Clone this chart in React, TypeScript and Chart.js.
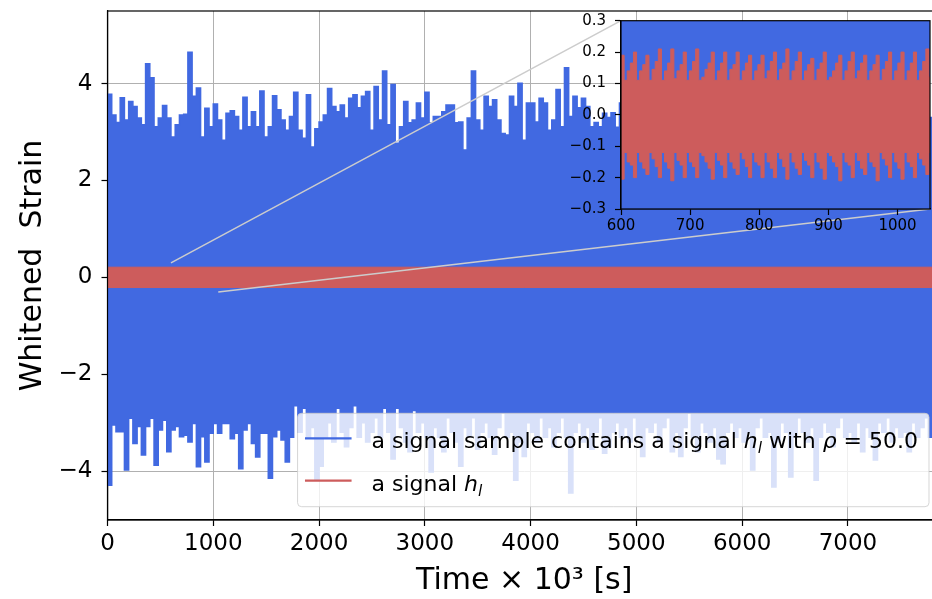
import React, { useEffect, useRef } from 'react';
import { Chart, registerables } from 'chart.js';

Chart.register(...registerables);

// ---------------- data ----------------
// noise envelope of the whitened strain, one value per time bin
const noiseStart = 0;
const noiseStep = 40;
const noiseUpper = [
  3.45, 3.78, 3.35, 3.2, 3.71, 3.25, 3.63, 3.53, 3.29, 3.15,
  4.41, 4.12, 3.11, 3.29, 3.55, 3.29, 2.9, 3.15, 3.35, 3.37,
  4.65, 3.74, 3.91, 2.9, 3.49, 3.11, 3.58, 3.25, 2.83, 3.39,
  3.44, 3.32, 3.04, 3.72, 3.11, 3.42, 3.11, 3.85, 2.9, 3.11,
  3.75, 3.46, 3.25, 3.04, 3.32, 3.82, 3.04, 2.87, 3.77, 2.69,
  3.07, 3.21, 3.35, 3.9, 3.53, 3.42, 3.56, 3.29, 3.7, 3.77,
  3.5, 3.74, 3.84, 3.04, 3.94, 3.25, 4.26, 3.15, 3.98, 2.77,
  3.11, 3.63, 3.19, 3.25, 3.6, 3.29, 3.82, 3.19, 3.32, 3.32,
  3.42, 3.56, 3.56, 3.19, 3.21, 2.63, 3.29, 4.26, 3.25, 3.04,
  3.74, 3.53, 3.67, 3.25, 2.97, 2.94, 3.74, 3.53, 4.01, 2.83,
  3.6, 3.6, 3.21, 3.7, 3.6, 3.04, 3.25, 3.88, 3.11, 4.33,
  3.32, 3.74, 3.5, 3.7, 3.53, 3.11, 3.2, 3.11, 3.39, 3.3,
  3.4, 3.1, 3.6, 3.3, 2.9, 3.5, 3.8, 3.2, 3.0, 3.4,
  3.3, 3.9, 3.1, 3.5, 3.2, 2.8, 3.6, 3.4, 3.1, 3.7,
  3.2, 3.0, 3.5, 4.1, 3.3, 3.1, 3.4, 2.9, 3.6, 3.2,
  3.5, 3.3, 3.0, 3.8, 3.2, 3.4, 3.1, 3.6, 2.9, 3.3,
  3.7, 3.2, 3.4, 3.0, 3.5, 3.9, 3.1, 3.3, 3.6, 3.2,
  3.0, 3.4, 3.8, 3.2, 3.5, 3.1, 3.3, 3.7, 2.9, 3.4,
  3.2, 3.6, 3.3, 3.0, 3.5, 4.0, 3.2, 3.4, 3.1, 3.6,
  3.3, 3.0, 3.5, 3.2, 3.7, 3.3, 3.1, 3.4,
];
const noiseLower = [
  -3.43, -4.29, -3.05, -3.19, -3.19, -3.98, -2.91, -3.43, -3.08, -3.67,
  -3.08, -2.91, -3.88, -3.15, -2.95, -3.6, -3.15, -3.08, -3.29, -3.26,
  -3.4, -3.02, -3.91, -3.29, -3.81, -3.22, -3.02, -3.22, -3.02, -3.02,
  -3.33, -3.22, -3.95, -3.15, -3.02, -3.43, -3.71, -3.22, -3.22, -4.15,
  -3.29, -3.15, -3.36, -3.81, -3.3,
  -2.65, -3.2, -2.7, -3.3, -3.1, -4.19, -3.9, -3.3, -3.0, -3.4,
  -2.7, -3.2, -3.5, -3.1, -2.65, -3.3, -3.0, -3.4, -3.2, -2.9,
  -3.3, -2.7, -3.2, -3.75, -2.7, -3.1, -3.4, -3.6, -2.75, -3.2,
  -3.0, -3.3, -4.02, -3.1, -3.3, -3.6, -2.9, -3.2, -3.4, -3.9,
  -3.1, -3.3, -2.9, -3.55, -3.2, -3.0, -3.3, -3.65, -3.1, -2.8,
  -3.3, -3.2, -4.19, -3.4, -3.7, -3.0, -3.2, -3.4, -2.9, -3.3,
  -3.1, -3.5, -3.2, -2.9, -3.3, -4.45, -3.2, -3.0, -3.4, -3.1,
  -3.55, -3.2, -2.9, -3.63, -3.5, -3.2, -3.0, -3.3, -3.1, -3.4,
  -2.9, -3.3, -3.7, -3.1, -3.2, -3.0, -3.4, -3.1, -2.9, -3.6,
  -3.2, -3.7, -3.1, -2.8, -3.3, -3.6, -3.0, -3.2, -3.4, -3.1,
  -3.75, -3.85, -3.2, -3.0, -3.3, -3.1, -3.4, -3.2, -3.98, -3.1,
  -2.9, -3.3, -3.2, -4.33, -3.4, -3.0, -3.2, -4.12, -3.3, -2.9,
  -3.2, -3.4, -3.1, -4.19, -3.3, -3.0, -3.2, -3.5, -3.1, -2.9,
  -3.3, -3.2, -3.4, -3.0, -3.6, -3.1, -3.3, -3.77, -3.0, -3.2,
  -2.9, -3.4, -3.1, -3.3, -3.2, -3.6, -3.0, -3.3, -3.1, -2.9,
  -3.3, -3.2, -3.4,
];

// signal envelope over the whole record (main panel)
const signalBandTimes = [0, 7880];
const signalBandUpper = [0.21, 0.21];
const signalBandLower = [-0.21, -0.21];

// signal envelope in the zoomed window (inset)
const insetStart = 600;
const insetStep = 4.5;
const insetSignalUpper = [
  0.17, 0.19, 0.11, 0.14, 0.165, 0.2, 0.11, 0.14, 0.16, 0.19,
  0.11, 0.145, 0.17, 0.21, 0.11, 0.14, 0.165, 0.21, 0.115, 0.14,
  0.16, 0.2, 0.11, 0.14, 0.17, 0.21, 0.11, 0.12, 0.145, 0.165,
  0.2, 0.11, 0.14, 0.165, 0.2, 0.11, 0.145, 0.16, 0.2, 0.11,
  0.14, 0.165, 0.19, 0.11, 0.14, 0.16, 0.19, 0.115, 0.14, 0.17,
  0.2, 0.11, 0.145, 0.165, 0.21, 0.11, 0.14, 0.17, 0.2, 0.11,
  0.14, 0.16, 0.18, 0.11, 0.145, 0.165, 0.2, 0.11, 0.12, 0.14,
  0.165, 0.19, 0.11, 0.14, 0.17, 0.2, 0.115, 0.14, 0.165, 0.19,
  0.11, 0.14, 0.16, 0.19, 0.11, 0.145, 0.17, 0.2, 0.11, 0.14,
  0.165, 0.2, 0.11, 0.14, 0.165, 0.2, 0.11, 0.14, 0.17, 0.21,
  0.12,
];
const insetSignalLower = [
  -0.18, -0.205, -0.12, -0.15, -0.16, -0.2, -0.12, -0.15, -0.17, -0.19,
  -0.12, -0.14, -0.165, -0.2, -0.12, -0.15, -0.17, -0.21, -0.12, -0.145,
  -0.16, -0.2, -0.12, -0.15, -0.165, -0.2, -0.12, -0.13, -0.15, -0.17,
  -0.205, -0.12, -0.145, -0.16, -0.2, -0.12, -0.15, -0.17, -0.19, -0.12,
  -0.14, -0.165, -0.2, -0.12, -0.15, -0.16, -0.2, -0.12, -0.15, -0.17,
  -0.2, -0.12, -0.14, -0.165, -0.205, -0.12, -0.15, -0.17, -0.19, -0.12,
  -0.145, -0.16, -0.2, -0.12, -0.15, -0.17, -0.205, -0.12, -0.13, -0.15,
  -0.165, -0.21, -0.12, -0.15, -0.16, -0.2, -0.12, -0.145, -0.17, -0.19,
  -0.12, -0.15, -0.165, -0.21, -0.12, -0.14, -0.16, -0.2, -0.12, -0.15,
  -0.17, -0.205, -0.12, -0.15, -0.165, -0.2, -0.12, -0.14, -0.16, -0.19,
  -0.12,
];

const xTicks = [0, 1000, 2000, 3000, 4000, 5000, 6000, 7000];
const yTicks = [-4, -2, 0, 2, 4];
const insetXTicks = [600, 700, 800, 900, 1000];
const insetYTicks = [-0.3, -0.2, -0.1, 0, 0.1, 0.2, 0.3];
const xRange = [0, 7880];
const yRange = [-5.01, 5.5];
const insetXRange = [600, 1047];
const insetYRange = [-0.3, 0.3];

const xTitle = 'Time \u00d7 10\u00b3 [s]';
const yTitle = 'Whitened  Strain';
type Part = { text: string; italic?: boolean; sub?: boolean };
const legendNoise: Part[] = [
  { text: 'a signal sample contains a signal ' },
  { text: 'h', italic: true },
  { text: 'l', italic: true, sub: true },
  { text: ' with ' },
  { text: '\u03c1', italic: true },
  { text: ' = ' },
  { text: '50.0' },
];
const legendSignal: Part[] = [
  { text: 'a signal ' },
  { text: 'h', italic: true },
  { text: 'l', italic: true, sub: true },
];

// ---------------- styles ----------------
const BLUE = '#4169e1';
const RED = '#cd5c5c';
const FONT = "'DejaVu Sans', sans-serif";

const toPoints = (start: number, step: number, values: number[]) =>
  values.map((y, i) => ({ x: start + i * step, y }));
const zip = (xs: number[], ys: number[]) => xs.map((x, i) => ({ x, y: ys[i] }));
const fmt = (v: number, digits: number) =>
  (v < 0 ? '\u2212' : '') + Math.abs(v).toFixed(digits);

const framePlugin = {
  id: 'frame',
  afterDatasetsDraw(chart: any) {
    const { ctx, chartArea: a } = chart;
    ctx.save();
    ctx.strokeStyle = '#000';
    ctx.lineWidth = 1.2;
    ctx.strokeRect(a.left, a.top, a.right - a.left, a.bottom - a.top);
    ctx.restore();
  },
};

// red datasets first so they are painted last (on top)
const bandDatasets = (upper: any[], lower: any[], color: string, width: number, stepped: any) => [
  { data: upper, borderColor: color, backgroundColor: color, borderWidth: width, pointRadius: 0, stepped, fill: '+1' },
  { data: lower, borderColor: color, backgroundColor: color, borderWidth: width, pointRadius: 0, stepped, fill: false },
];

export default function App() {
  const mainRef = useRef<HTMLCanvasElement>(null);
  const insetRef = useRef<HTMLCanvasElement>(null);

  useEffect(() => {
    const mainCanvas = mainRef.current!;
    const insetCanvas = insetRef.current!;

    const noiseU = toPoints(noiseStart, noiseStep, noiseUpper);
    const noiseL = toPoints(noiseStart, noiseStep, noiseLower);

    const inset = new Chart(insetCanvas, {
      type: 'line',
      data: {
        datasets: [
          ...bandDatasets(toPoints(insetStart, insetStep, insetSignalUpper), toPoints(insetStart, insetStep, insetSignalLower), RED, 1, 'after'),
          ...bandDatasets(noiseU, noiseL, BLUE, 1.5, 'after'),
        ],
      } as any,
      options: {
        responsive: false,
        maintainAspectRatio: false,
        animation: false,
        events: [],
        layout: { padding: { top: 12.7, right: 2, left: 0, bottom: 0 } },
        plugins: { legend: { display: false }, tooltip: { enabled: false } },
        scales: {
          x: {
            type: 'linear', min: insetXRange[0], max: insetXRange[1],
            afterBuildTicks: (s: any) => { s.ticks = insetXTicks.map((value) => ({ value })); },
            afterFit: (s: any) => { s.height = 31; s.paddingLeft = 0; s.paddingRight = 0; },
            ticks: { font: { family: FONT, size: 15 }, color: '#000', padding: 2, autoSkip: false, maxRotation: 0, callback: (v: any) => fmt(Number(v), 0) },
            grid: { drawOnChartArea: false, tickLength: 6, tickColor: '#000', tickWidth: 1.2 },
            border: { color: '#000', width: 1.2 },
          },
          y: {
            type: 'linear', min: insetYRange[0], max: insetYRange[1],
            afterBuildTicks: (s: any) => { s.ticks = insetYTicks.map((value) => ({ value })); },
            afterFit: (s: any) => { s.width = 61; s.paddingTop = 0; s.paddingBottom = 0; },
            ticks: { font: { family: FONT, size: 15 }, color: '#000', padding: 9, autoSkip: false, callback: (v: any) => fmt(Number(v), 1) },
            grid: { drawOnChartArea: false, tickLength: 6, tickColor: '#000', tickWidth: 1.2 },
            border: { color: '#000', width: 1.2 },
          },
        },
      } as any,
      plugins: [framePlugin],
    });

    const connectorPlugin = {
      id: 'connectors',
      afterDatasetsDraw(chart: any) {
        const { ctx } = chart;
        const xs = chart.scales.x;
        const ys = chart.scales.y;
        const ia = inset.chartArea;
        const dx = insetCanvas.offsetLeft - mainCanvas.offsetLeft;
        const dy = insetCanvas.offsetTop - mainCanvas.offsetTop;
        ctx.save();
        ctx.strokeStyle = '#cccccc';
        ctx.lineWidth = 1.5;
        ctx.beginPath();
        ctx.moveTo(xs.getPixelForValue(insetXRange[0]), ys.getPixelForValue(insetYRange[1]));
        ctx.lineTo(ia.left + dx, ia.top + dy);
        ctx.moveTo(xs.getPixelForValue(insetXRange[1]), ys.getPixelForValue(insetYRange[0]));
        ctx.lineTo(ia.right + dx, ia.bottom + dy);
        ctx.stroke();
        ctx.restore();
      },
    };

    const legendPlugin = {
      id: 'richLegend',
      afterDraw(chart: any) {
        const { ctx, chartArea: a } = chart;
        const fs = 22;
        const fontFor = (p: Part) => `${p.italic ? 'italic ' : ''}${p.sub ? fs * 0.7 : fs}px ${FONT}`;
        const measure = (parts: Part[]) =>
          parts.reduce((w, p) => { ctx.font = fontFor(p); return w + ctx.measureText(p.text).width; }, 0);
        ctx.save();
        const textW = Math.max(measure(legendNoise), measure(legendSignal));
        const padL = 7.4, handleLen = 46.6, gap = 20, padR = 11;
        const right = a.right - 12;
        const bottom = a.bottom - 13.3;
        const width = padL + handleLen + gap + textW + padR;
        const height = 93.4;
        const left = right - width;
        const top = bottom - height;
        ctx.beginPath();
        if ((ctx as any).roundRect) (ctx as any).roundRect(left, top, width, height, 4);
        else ctx.rect(left, top, width, height);
        ctx.fillStyle = 'rgba(255,255,255,0.8)';
        ctx.fill();
        ctx.strokeStyle = 'rgba(204,204,204,0.8)';
        ctx.lineWidth = 1;
        ctx.stroke();
        const rows = [
          { parts: legendNoise, color: BLUE },
          { parts: legendSignal, color: RED },
        ];
        rows.forEach((row, i) => {
          const cy = top + 25 + i * 42.4;
          ctx.strokeStyle = row.color;
          ctx.lineWidth = 2.2;
          ctx.beginPath();
          ctx.moveTo(left + padL, cy);
          ctx.lineTo(left + padL + handleLen, cy);
          ctx.stroke();
          let x = left + padL + handleLen + gap;
          const base = cy + 10;
          ctx.fillStyle = '#000';
          ctx.textBaseline = 'alphabetic';
          ctx.textAlign = 'left';
          row.parts.forEach((p) => {
            ctx.font = fontFor(p);
            ctx.fillText(p.text, x, base + (p.sub ? 0.22 * fs : 0));
            x += ctx.measureText(p.text).width;
          });
        });
        ctx.restore();
      },
    };

    const main = new Chart(mainCanvas, {
      type: 'line',
      data: {
        datasets: [
          ...bandDatasets(zip(signalBandTimes, signalBandUpper), zip(signalBandTimes, signalBandLower), RED, 1, false),
          ...bandDatasets(noiseU, noiseL, BLUE, 1.5, 'after'),
        ],
      } as any,
      options: {
        responsive: false,
        maintainAspectRatio: false,
        animation: false,
        events: [],
        layout: { padding: { top: 11, right: 1, left: 0, bottom: 0 } },
        plugins: { legend: { display: false }, tooltip: { enabled: false } },
        scales: {
          x: {
            type: 'linear', min: xRange[0], max: xRange[1],
            afterBuildTicks: (s: any) => { s.ticks = xTicks.map((value) => ({ value })); },
            afterFit: (s: any) => { s.height = 79; s.paddingLeft = 0; s.paddingRight = 0; },
            ticks: { font: { family: FONT, size: 23 }, color: '#000', padding: 4, autoSkip: false, maxRotation: 0, callback: (v: any) => fmt(Number(v), 0) },
            grid: { color: '#b0b0b0', lineWidth: 1, tickLength: 6, tickColor: '#000', tickWidth: 1.2 },
            border: { color: '#000', width: 1.2 },
            title: { display: true, text: xTitle, color: '#000', font: { family: FONT, size: 30 }, padding: { top: 0, bottom: 0 } },
          },
          y: {
            type: 'linear', min: yRange[0], max: yRange[1],
            afterBuildTicks: (s: any) => { s.ticks = yTicks.map((value) => ({ value })); },
            afterFit: (s: any) => { s.width = 107.5; s.paddingTop = 0; s.paddingBottom = 0; },
            ticks: { font: { family: FONT, size: 23 }, color: '#000', padding: 9, autoSkip: false, callback: (v: any) => fmt(Number(v), 0) },
            grid: { color: '#b0b0b0', lineWidth: 1, tickLength: 6, tickColor: '#000', tickWidth: 1.2 },
            border: { color: '#000', width: 1.2 },
            title: { display: true, text: yTitle, color: '#000', font: { family: FONT, size: 30 }, padding: { top: 15, bottom: 0 } },
          },
        },
      } as any,
      plugins: [connectorPlugin, framePlugin, legendPlugin],
    });

    return () => {
      main.destroy();
      inset.destroy();
    };
  }, []);

  return (
    <div style={{ position: 'fixed', left: 0, top: 0, width: 932, height: 599, overflow: 'hidden', background: '#fff' }}>
      <canvas ref={mainRef} width={942} height={599} style={{ position: 'absolute', left: 0, top: 0 }} />
      <canvas ref={insetRef} width={372} height={232} style={{ position: 'absolute', left: 560, top: 8 }} />
    </div>
  );
}
